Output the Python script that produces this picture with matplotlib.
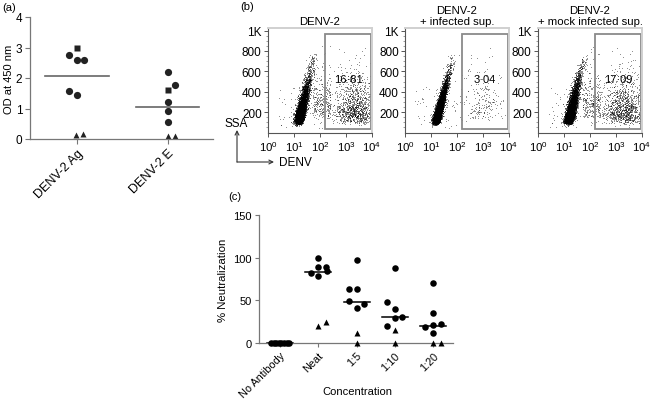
import numpy as np
import matplotlib
matplotlib.use('Agg')
import matplotlib.pyplot as plt
from matplotlib.patches import Rectangle, FancyArrowPatch
from matplotlib.ticker import FixedLocator, NullFormatter, LogLocator

plt.rcParams['font.family'] = ['Liberation Sans', 'DejaVu Sans']
plt.rcParams['mathtext.fontset'] = 'custom'
plt.rcParams['mathtext.rm'] = 'Liberation Sans'
plt.rcParams['mathtext.it'] = 'Liberation Sans:italic'
plt.rcParams['mathtext.bf'] = 'Liberation Sans:bold'

# ---------------- data: panel (a) ----------------
a_groups = ['DENV-2 Ag', 'DENV-2 E']
a_circle_vals = [[2.75, 2.59, 2.59, 1.56, 1.45], [2.2, 1.78, 1.2, 0.91, 0.57]]
a_circle_off = [[-0.085, 0.0, 0.08, -0.085, 0.0], [0.0, 0.08, 0.0, 0.0, 0.0]]
a_square_vals = [3.0, 1.6]
a_triangle_vals = [[0.14, 0.16], [0.1, 0.1]]
a_triangle_off = [[-0.01, 0.07], [0.0, 0.08]]
a_yticks = [0, 1, 2, 3, 4]

# ---------------- data: panel (b) ----------------
b_titles = ['DENV-2', 'DENV-2\n+ infected sup.', 'DENV-2\n+ mock infected sup.']
b_gate_pct = [16.81, 3.04, 17.09]
b_gate_labels = ['16·81', '3·04', '17·09']
b_yticks = [200, 400, 600, 800, 1000]
b_yticklabels = ['200', '400', '600', '800', '1K']
b_xticks = [1, 10, 100, 1000, 10000]
b_xticklabels = ['$10^0$', '$10^1$', '$10^2$', '$10^3$', '$10^4$']

# ---------------- data: panel (c) ----------------
c_categories = ['No Antibody', 'Neat', '1:5', '1:10', '1:20']
c_circle_vals = [
    [0, 0, 0, 0, 0, 0, 0, 0],
    [100, 89, 89, 82, 79, 84],
    [97, 63, 63, 49.6, 41, 45.7],
    [88, 48, 40, 20, 29.7, 30.9],
    [70, 35.5, 18.8, 21.5, 22.7, 12],
]
c_circle_off = [
    [-0.24, -0.17, -0.10, -0.03, 0.03, 0.10, 0.17, 0.24],
    [0.0, 0.0, 0.2, -0.2, 0.0, 0.22],
    [0.0, -0.2, 0.0, -0.2, 0.0, 0.2],
    [0.0, -0.2, 0.0, -0.2, 0.0, 0.2],
    [0.0, 0.0, -0.2, 0.0, 0.2, 0.0],
]
c_triangle_vals = [[], [19.5, 24.6], [11.7, 0], [15, 0], [0, 0]]
c_triangle_off = [[], [0.0, 0.2], [0.0, 0.0], [0.0, 0.0], [0.0, 0.2]]
c_yticks = [0, 50, 100, 150]

W, H = 653, 402
fig = plt.figure(figsize=(W / 100, H / 100), dpi=100)

def fx(px):
    return px / W

def fy(py):
    return 1 - py / H

def rect(l, t, r, b):
    return [fx(l), fy(b), fx(r) - fx(l), fy(t) - fy(b)]

spine_gray = '#777777'

# ================= panel (a) =================
axa = fig.add_axes(rect(30, 18, 213, 140))
for i in range(len(a_groups)):
    xs = [i + o for o in a_circle_off[i]]
    axa.plot(xs, a_circle_vals[i], 'o', color='#222222', ms=5.2, mec='none', clip_on=False)
    axa.plot([i], [a_square_vals[i]], 's', color='#222222', ms=5.0, mec='none', clip_on=False)
    axa.plot([i + o for o in a_triangle_off[i]], a_triangle_vals[i], '^',
             color='#222222', ms=5.0, mec='none', clip_on=False)
    allv = a_circle_vals[i] + [a_square_vals[i]] + a_triangle_vals[i]
    med = np.median(allv)
    axa.plot([i - 0.35, i + 0.35], [med, med], color='#666666', lw=1.2)
axa.set_xlim(-0.52, 1.5)
axa.set_ylim(0, 4)
axa.set_yticks(a_yticks)
axa.set_xticks(range(len(a_groups)))
axa.set_xticklabels(a_groups, rotation=45, ha='right', rotation_mode='anchor', fontsize=9)
axa.tick_params(axis='y', labelsize=8.5, length=3.5, width=0.8, color=spine_gray, pad=2)
axa.tick_params(axis='x', length=3.5, width=0.8, color=spine_gray, pad=2)
for s in ['top', 'right']:
    axa.spines[s].set_visible(False)
for s in ['left', 'bottom']:
    axa.spines[s].set_color(spine_gray)
    axa.spines[s].set_linewidth(0.9)
fig.text(fx(9), fy(79), 'OD at 450 nm', fontsize=8, rotation=90, ha='center', va='center')
fig.text(fx(2), fy(8), '(a)', fontsize=8, va='center', ha='left')

# ================= panel (b) =================
gen = np.random.default_rng(11)

def neg_cloud(n, slope, base, width, ymax):
    y = 95 + gen.gamma(1.5, 100, n) + gen.normal(0, 15, n)
    y = y[y < ymax]
    lx = base + slope * y + gen.normal(0, width, y.size)
    return lx, y

def pos_cloud(n, cx, sx):
    lx = gen.normal(cx, sx, n)
    y = 80 + gen.gamma(2.2, 90, n) + gen.normal(0, 20, n)
    return lx, y

def scatter_bg(n):
    lx = gen.uniform(0.4, 2.2, n)
    y = gen.uniform(40, 450, n)
    return lx, y

b_lefts = [268, 405, 538]
for k in range(3):
    l = b_lefts[k]
    ax = fig.add_axes(rect(l, 29, l + 104, 133.5))
    ntot = 7000
    npos = int(ntot * b_gate_pct[k] / 100)
    if k == 1:
        lxn, yn = neg_cloud(ntot - npos, 0.001, 1.08, 0.07, 760)
        lxp = gen.normal(3.0, 0.42, npos)
        yp = 100 + gen.gamma(2.2, 110, npos)
        lxb, yb = scatter_bg(50)
    else:
        lxn, yn = neg_cloud(ntot - npos, 0.0009, 1.07, 0.085, 780)
        lxp, yp = pos_cloud(npos, 3.35 if k == 0 else 3.3, 0.4)
        lxb, yb = scatter_bg(60)
        lxm = gen.uniform(1.7, 2.4, 280)
        ym = 130 + gen.gamma(2.0, 100, 280)
        lxb = np.concatenate([lxb, lxm])
        yb = np.concatenate([yb, ym])
    lx = np.concatenate([lxn, lxp, lxb])
    yy = np.concatenate([yn, yp, yb])
    keep = (lx < 3.97) & (lx > 0.2) & (yy < 880) & (yy > 25)
    ax.scatter(10 ** lx[keep], yy[keep], s=0.2, c='black', linewidths=0,
               alpha=0.8, rasterized=True)
    ax.set_xscale('log')
    ax.set_xlim(1, 10000)
    ax.set_ylim(0, 1025)
    ax.set_xticks(b_xticks)
    ax.set_xticklabels(b_xticklabels)
    ax.xaxis.set_minor_locator(LogLocator(base=10, subs=np.arange(2, 10)))
    ax.xaxis.set_minor_formatter(NullFormatter())
    ax.set_yticks(b_yticks)
    ax.set_yticklabels(b_yticklabels)
    ax.yaxis.set_minor_locator(FixedLocator(np.arange(50, 1000, 50)))
    ax.tick_params(axis='y', which='major', labelsize=8.5, length=3, width=0.7,
                   color='#555555', pad=1.5)
    ax.tick_params(axis='x', which='major', labelsize=8.2, length=3, width=0.7,
                   color='#555555', pad=1.5)
    ax.tick_params(axis='both', which='minor', length=1.8, width=0.5, color='#777777')
    for s in ['top', 'right']:
        ax.spines[s].set_color('#d0d0d0')
        ax.spines[s].set_linewidth(1.4)
    for s in ['left', 'bottom']:
        ax.spines[s].set_color('#555555')
        ax.spines[s].set_linewidth(0.8)
    gate = Rectangle((158, 35), 9000 - 158, 935, fill=False, edgecolor='#8a8a8a', lw=1.3)
    ax.add_patch(gate)
    ax.text(10 ** 3.08, 528, b_gate_labels[k], fontsize=8, ha='center', va='center')
    ax.set_title(b_titles[k], fontsize=8.2, pad=3, linespacing=1.15)

fig.text(fx(240), fy(7), '(b)', fontsize=8, va='center', ha='left')
# SSA / DENV axis key
corner = (fx(237), fy(163))
fig.add_artist(FancyArrowPatch(corner, (fx(237), fy(131)), transform=fig.transFigure,
                               arrowstyle='->', mutation_scale=7, lw=0.8, color='#333333',
                               shrinkA=0, shrinkB=0))
fig.add_artist(FancyArrowPatch(corner, (fx(274), fy(163)), transform=fig.transFigure,
                               arrowstyle='->', mutation_scale=7, lw=0.8, color='#333333',
                               shrinkA=0, shrinkB=0))
fig.text(fx(236), fy(124), 'SSA', fontsize=8.5, ha='center', va='center')
fig.text(fx(279), fy(163), 'DENV', fontsize=8.5, ha='left', va='center')

# ================= panel (c) =================
axc = fig.add_axes(rect(259, 216, 453, 344))
for i in range(len(c_categories)):
    xs = [i + o for o in c_circle_off[i]]
    axc.plot(xs, c_circle_vals[i], 'o', color='black', ms=4.7, mec='none', zorder=3,
             clip_on=False)
    if c_triangle_vals[i]:
        axc.plot([i + o for o in c_triangle_off[i]], c_triangle_vals[i], '^',
                 color='black', ms=4.6, mec='none', zorder=3, clip_on=False)
    allv = c_circle_vals[i] + c_triangle_vals[i]
    med = np.median(allv)
    axc.plot([i - 0.34, i + 0.34], [med, med], color='black', lw=1.1, zorder=2)
axc.set_xlim(-0.55, 4.52)
axc.set_ylim(0, 150)
axc.set_yticks(c_yticks)
axc.set_xticks(range(len(c_categories)))
axc.set_xticklabels(c_categories, rotation=45, ha='right', rotation_mode='anchor', fontsize=7.8)
axc.tick_params(axis='y', labelsize=8, length=3, width=0.8, color=spine_gray, pad=2)
axc.tick_params(axis='x', length=3, width=0.8, color=spine_gray, pad=2)
for s in ['top', 'right']:
    axc.spines[s].set_visible(False)
for s in ['left', 'bottom']:
    axc.spines[s].set_color(spine_gray)
    axc.spines[s].set_linewidth(0.9)
fig.text(fx(223), fy(280), '% Neutralization', fontsize=8.2, rotation=90, ha='center', va='center')
fig.text(fx(357), fy(392), 'Concentration', fontsize=8, ha='center', va='center')
fig.text(fx(228), fy(197), '(c)', fontsize=8, va='center', ha='left')

fig.savefig('out.png', dpi=100)
